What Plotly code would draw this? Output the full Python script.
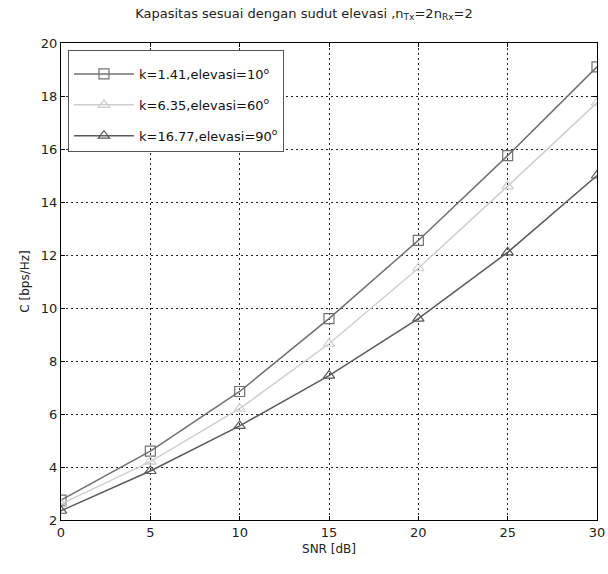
import plotly.graph_objects as go

snr = [0, 5, 10, 15, 20, 25, 30]
cap_k141 = [2.75, 4.6, 6.85, 9.6, 12.55, 15.75, 19.1]
cap_k635 = [2.6, 4.2, 6.2, 8.65, 11.5, 14.6, 17.75]
cap_k1677 = [2.35, 3.85, 5.55, 7.45, 9.6, 12.1, 15.0]
names = ["k=1.41,elevasi=10<sup>o</sup>", "k=6.35,elevasi=60<sup>o</sup>", "k=16.77,elevasi=90<sup>o</sup>"]
x_ticks = [0, 5, 10, 15, 20, 25, 30]
y_ticks = [2, 4, 6, 8, 10, 12, 14, 16, 18, 20]

fig = go.Figure()
fig.add_trace(go.Scatter(x=snr, y=cap_k141, name=names[0], mode="lines+markers", legendgroup="a",
                         line=dict(color="#707070", width=1.5),
                         marker=dict(symbol="square-open", size=10, color="#707070", line=dict(width=1.2))))
fig.add_trace(go.Scatter(x=snr, y=cap_k635, name=names[1], mode="lines+markers", legendgroup="b",
                         line=dict(color="#cfcfcf", width=1.5),
                         marker=dict(symbol="triangle-up-open", size=10, color="#cfcfcf", line=dict(width=1.2))))
fig.add_trace(go.Scatter(x=snr, y=cap_k1677, name=names[2], mode="lines+markers", legendgroup="c",
                         line=dict(color="#5a5a5a", width=1.5),
                         marker=dict(symbol="triangle-up-open", size=10, color="#5a5a5a", line=dict(width=1.2))))

axis_common = dict(showline=True, linecolor="black", linewidth=1, mirror="ticks",
                   showgrid=True, gridcolor="#222222", griddash="2px,3px", gridwidth=1,
                   zeroline=False, ticks="inside", ticklen=4, tickcolor="black",
                   automargin=False,
                   tickfont=dict(family="DejaVu Sans", size=13, color="#222222"))

fig.update_layout(
    width=608, height=574,
    margin=dict(l=61, r=11, t=43, b=54),
    paper_bgcolor="white", plot_bgcolor="white",
    font=dict(family="DejaVu Sans", size=12, color="#222222"),
    title=dict(text="Kapasitas sesuai dengan sudut elevasi ,n<sub>Tx</sub>=2n<sub>Rx</sub>=2",
               x=0.5, xanchor="center", y=0.985, yanchor="top",
               font=dict(family="DejaVu Sans", size=13, color="#222222")),
    xaxis=dict(range=[0, 30], tickvals=x_ticks, title=dict(text="SNR [dB]", standoff=6,
               font=dict(size=12)), **axis_common),
    yaxis=dict(range=[2, 20], tickvals=y_ticks, title=dict(text="C [bps/Hz]", standoff=8,
               font=dict(size=12)), **axis_common),
    legend=dict(x=0.013, y=0.985, xanchor="left", yanchor="top",
                bgcolor="white", bordercolor="#555555", borderwidth=1,
                font=dict(family="DejaVu Sans", size=13, color="#111111"),
                title=dict(text=" ", font=dict(size=6)),
                itemwidth=60, tracegroupgap=11),
    showlegend=True,
)

fig.write_html("out.html", config={"displayModeBar": False},
               post_script="document.body.style.margin='0';document.body.style.overflow='hidden';")
